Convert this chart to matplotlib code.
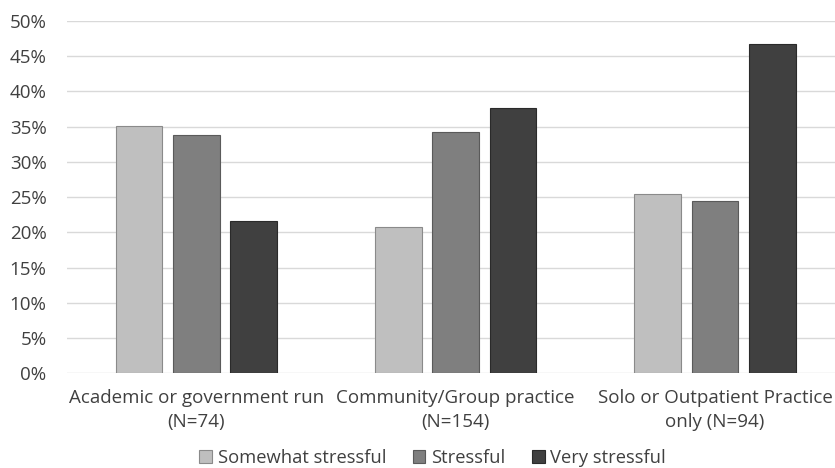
import matplotlib
matplotlib.use("Agg")
import matplotlib.pyplot as plt
import numpy as np
from matplotlib.ticker import PercentFormatter

categories = ["Academic or government run\n(N=74)",
              "Community/Group practice\n(N=154)",
              "Solo or Outpatient Practice\nonly (N=94)"]
series_names = ["Somewhat stressful", "Stressful", "Very stressful"]
somewhat = [35.1, 20.8, 25.5]
stressful = [33.8, 34.3, 24.4]
very = [21.6, 37.7, 46.7]

colors = ["#bfbfbf", "#7f7f7f", "#404040"]
edges = ["#8a8a8a", "#5a5a5a", "#2a2a2a"]
text_color = "#404040"

plt.rcParams["font.family"] = ["Open Sans", "DejaVu Sans"]

fig = plt.figure(figsize=(8.35, 4.68), dpi=100)
ax = fig.add_axes([0.0799, 0.2025, 0.9201, 0.7526])

x = np.arange(len(categories))
step = 0.221
width = 0.18
for i, (vals, name) in enumerate(zip([somewhat, stressful, very], series_names)):
    ax.bar(x + (i - 1) * step, vals, width, color=colors[i], edgecolor=edges[i],
           linewidth=0.8, label=name, zorder=3)

ax.set_xlim(-0.5, 2.463)
ax.set_ylim(0, 50)
ax.set_yticks(np.arange(0, 51, 5))
ax.yaxis.set_major_formatter(PercentFormatter(decimals=0))
ax.set_xticks(x)
ax.set_xticklabels(categories)
ax.grid(axis="y", color="#d9d9d9", linewidth=1.0, zorder=0)
for s in ax.spines.values():
    s.set_visible(False)
ax.tick_params(axis="both", length=0, labelsize=13.5, labelcolor=text_color)
ax.tick_params(axis="y", pad=14.5)
ax.tick_params(axis="x", pad=11)
for lbl in ax.get_xticklabels():
    lbl.set_linespacing(1.45)

leg = fig.legend(loc="center", bbox_to_anchor=(0.518, 0.021), ncol=3, frameon=False,
                 fontsize=13.2, handlelength=0.7, handleheight=0.7, handletextpad=0.3,
                 columnspacing=1.45, labelcolor=text_color)

fig.savefig("out.png", dpi=100)
